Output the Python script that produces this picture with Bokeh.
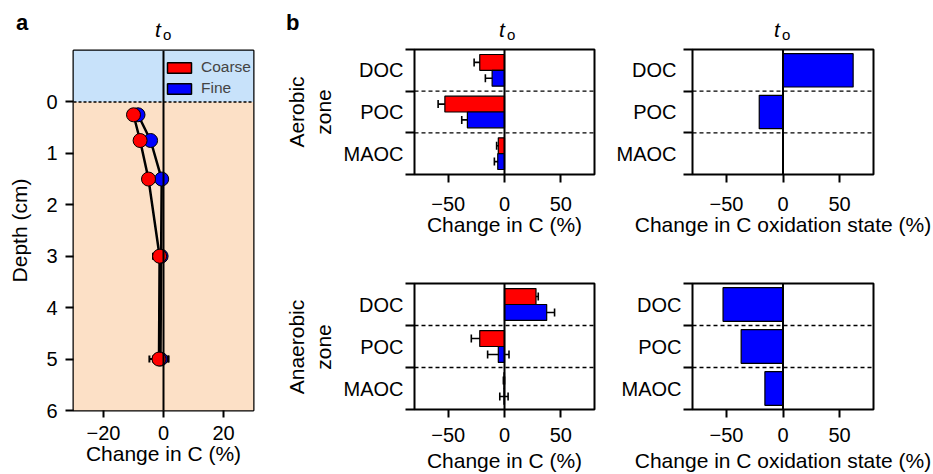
import math
from bokeh.plotting import figure
from bokeh.models import (Range1d, FixedTicker, Span, BoxAnnotation, Legend,
                          LegendItem, Whisker, TeeHead, ColumnDataSource, Div)
from bokeh.layouts import row, column
from bokeh.embed import file_html
from bokeh.resources import INLINE

FONT = "Liberation Sans"

# ---------------- panel a data ----------------
depth_cm = [0.25, 0.75, 1.5, 3.0, 5.0]
coarse_change = [-10.0, -7.8, -5.0, -1.3, -1.5]
coarse_err = [0.6, 0.6, 0.6, 2.2, 3.2]
fine_change = [-8.5, -4.3, -0.6, -0.8, -1.0]
fine_err = [0.6, 0.6, 0.6, 1.5, 2.5]
depth_ticks = [0, 1, 2, 3, 4, 5, 6]
change_ticks_a = [-20, 0, 20]
depth_top, depth_bottom = -1, 6
zone_boundary = 0
series_names = ["Coarse", "Fine"]

# ---------------- panel b data ----------------
fractions = ["DOC", "POC", "MAOC"]
aer_coarse = [-22, -53, -5.5]
aer_coarse_err = [5, 6, 1.5]
aer_fine = [-11, -33, -6]
aer_fine_err = [6, 5, 3]
aer_ox = [62, -21, 0]
ana_coarse = [28, -22, -0.5]
ana_coarse_err = [2, 7.5, 0.5]
ana_fine = [37.5, -5.5, -0.5]
ana_fine_err = [7, 9.5, 3.7]
ana_ox = [-53, -37, -16]
change_ticks_b = [-50, 0, 50]
zone_names = ["Aerobic", "Anaerobic"]

RED = "#FF0000"
BLUE = "#0000FF"
SKY = "#C8E2FA"
PEACH = "#FCE0C6"
NAN = float("nan")


def minus(v):
    return ("\u2212" + str(abs(v))) if v < 0 else str(v)


def base_style(p):
    p.xgrid.visible = False
    p.ygrid.visible = False
    p.title.visible = False
    p.outline_line_color = "black"
    p.outline_line_width = 2
    p.outline_line_alpha = 1
    p.background_fill_color = "white"
    p.border_fill_color = "white"
    for ax in p.axis:
        ax.axis_line_color = None
        ax.major_tick_line_color = "black"
        ax.major_tick_line_width = 2
        ax.major_tick_in = 0
        ax.minor_tick_line_color = None
        ax.major_label_text_font = FONT
        ax.major_label_text_font_size = "20px"
        ax.major_label_text_color = "black"
        ax.axis_label_text_font = FONT
        ax.axis_label_text_font_style = "normal"
        ax.axis_label_text_font_size = "21px"
        ax.axis_label_text_color = "black"


def set_xaxis(p, ticks, tick_out, standoff, label, label_standoff):
    ax = p.xaxis[0]
    ax.ticker = FixedTicker(ticks=ticks)
    ax.major_label_overrides = {t: minus(t) for t in ticks}
    ax.major_tick_out = tick_out
    ax.major_label_standoff = standoff
    ax.axis_label = label
    ax.axis_label_standoff = label_standoff


# ================= panel a =================
pa = figure(width=280, height=430, x_range=Range1d(-30, 30),
            y_range=Range1d(depth_bottom, depth_top), toolbar_location=None,
            output_backend="svg", min_border_left=73, min_border_right=27,
            min_border_top=6, min_border_bottom=64)
base_style(pa)
pa.add_layout(BoxAnnotation(top=depth_top, bottom=zone_boundary, fill_color=SKY,
                            fill_alpha=1, line_color=None, level="underlay"))
pa.add_layout(BoxAnnotation(top=zone_boundary, bottom=depth_bottom, fill_color=PEACH,
                            fill_alpha=1, line_color=None, level="underlay"))
pa.add_layout(Span(location=zone_boundary, dimension="width", line_color="black",
                   line_width=1.5, line_dash="3 2"))
pa.add_layout(Span(location=0, dimension="height", line_color="black", line_width=2))

set_xaxis(pa, change_ticks_a, 7, 8, "Change in C (%)", -1)
ya = pa.yaxis[0]
ya.ticker = FixedTicker(ticks=depth_ticks)
ya.major_tick_out = 8
ya.major_label_standoff = 8
ya.axis_label = "Depth (cm)"
ya.axis_label_standoff = 12

src_c = ColumnDataSource(dict(d=depth_cm, x=coarse_change,
                              lo=[v - e for v, e in zip(coarse_change, coarse_err)],
                              hi=[v + e for v, e in zip(coarse_change, coarse_err)]))
src_f = ColumnDataSource(dict(d=depth_cm, x=fine_change,
                              lo=[v - e for v, e in zip(fine_change, fine_err)],
                              hi=[v + e for v, e in zip(fine_change, fine_err)]))
for s in (src_f, src_c):
    pa.add_layout(Whisker(source=s, base="d", lower="lo", upper="hi", dimension="width",
                          line_color="black", line_width=2,
                          upper_head=TeeHead(size=7, line_width=2, line_color="black"),
                          lower_head=TeeHead(size=7, line_width=2, line_color="black")))
pa.line("x", "d", source=src_f, line_color="black", line_width=2.5)
pa.line("x", "d", source=src_c, line_color="black", line_width=2.5)
pa.scatter("x", "d", source=src_f, size=14, fill_color=BLUE, line_color="black", line_width=1)
pa.scatter("x", "d", source=src_c, size=14, fill_color=RED, line_color="black", line_width=1)

leg_c = pa.quad(left=[NAN], right=[NAN], top=[NAN], bottom=[NAN], fill_color=RED,
                line_color="black", line_width=1.5)
leg_f = pa.quad(left=[NAN], right=[NAN], top=[NAN], bottom=[NAN], fill_color=BLUE,
                line_color="black", line_width=1.5)
legend = Legend(items=[LegendItem(label=series_names[0], renderers=[leg_c]),
                       LegendItem(label=series_names[1], renderers=[leg_f])],
                location=(91, 313), glyph_width=30, glyph_height=13, label_standoff=7,
                label_text_font=FONT, label_text_font_size="15.5px", padding=3,
                spacing=3, margin=0, border_line_color=None, background_fill_alpha=0)
pa.add_layout(legend)


# ================= panel b =================
n = len(fractions)
centers = [n - 0.5 - i for i in range(n)]
bounds = [float(i) for i in range(n + 1)]
half = 0.19


def bar_panel(top_row, left_col, xlabel, ylab_standoff):
    w = 264 if left_col else 333
    h = 196 if top_row else 234
    p = figure(width=w, height=h, x_range=Range1d(-80, 80), y_range=Range1d(0, n),
               toolbar_location=None, output_backend="svg",
               min_border_left=78 if left_col else 92,
               min_border_right=6 if left_col else 60,
               min_border_top=5 if top_row else 43,
               min_border_bottom=66 if top_row else 65)
    base_style(p)
    set_xaxis(p, change_ticks_b, 8, 14 if top_row else 10, xlabel, -1 if top_row else 4)
    yax = p.yaxis[0]
    yax.ticker = FixedTicker(ticks=centers, minor_ticks=bounds)
    yax.major_label_overrides = {c: f for c, f in zip(centers, fractions)}
    yax.major_tick_out = 0
    yax.major_tick_line_color = None
    yax.minor_tick_out = 9
    yax.minor_tick_in = 0
    yax.minor_tick_line_color = "black"
    yax.minor_tick_line_width = 2
    yax.major_label_standoff = ylab_standoff
    for b in bounds[1:-1]:
        p.add_layout(Span(location=b, dimension="width", line_color="black",
                          line_width=1.3, line_dash="4 3"))
    return p


def change_bars(p, coarse, coarse_err, fine, fine_err):
    yc = [c + half for c in centers]
    yf = [c - half for c in centers]
    p.hbar(y=yc, left=0, right=coarse, height=2 * half, fill_color=RED,
           line_color="black", line_width=1.2)
    p.hbar(y=yf, left=0, right=fine, height=2 * half, fill_color=BLUE,
           line_color="black", line_width=1.2)
    for ys, v, e in ((yc, coarse, coarse_err), (yf, fine, fine_err)):
        s = ColumnDataSource(dict(y=ys, lo=[a - b for a, b in zip(v, e)],
                                  hi=[a + b for a, b in zip(v, e)]))
        p.add_layout(Whisker(source=s, base="y", lower="lo", upper="hi", dimension="width",
                             line_color="black", line_width=1.6,
                             upper_head=TeeHead(size=8, line_width=1.6, line_color="black"),
                             lower_head=TeeHead(size=8, line_width=1.6, line_color="black")))
    p.add_layout(Span(location=0, dimension="height", line_color="black", line_width=2))


def ox_bars(p, ox):
    p.hbar(y=centers, left=0, right=ox, height=0.8, fill_color=BLUE,
           line_color="black", line_width=1.2)
    p.add_layout(Span(location=0, dimension="height", line_color="black", line_width=2))


p1 = bar_panel(True, True, "Change in C (%)", 2)
change_bars(p1, aer_coarse, aer_coarse_err, aer_fine, aer_fine_err)
p2 = bar_panel(True, False, "Change in C oxidation state (%)", 7)
ox_bars(p2, aer_ox)
p3 = bar_panel(False, True, "Change in C (%)", 2)
change_bars(p3, ana_coarse, ana_coarse_err, ana_fine, ana_fine_err)
p4 = bar_panel(False, False, "Change in C oxidation state (%)", 2)
ox_bars(p4, ana_ox)


# ================= text outside the plot frames (HTML) =================
def span(text, left, top, size, weight="normal", style="normal"):
    return (f'<span style="position:absolute;left:{left}px;top:{top}px;'
            f'font-size:{size}px;line-height:{size}px;font-weight:{weight};'
            f'font-style:{style};white-space:nowrap;">{text}</span>')


def rotated(text, cx, cy, size):
    return (f'<span style="position:absolute;left:{cx}px;top:{cy}px;font-size:{size}px;'
            f'line-height:{size}px;white-space:nowrap;'
            f'transform:translate(-50%,-50%) rotate(-90deg);">{text}</span>')


def box(inner, w, h):
    return (f'<div style="position:relative;width:{w}px;height:{h}px;'
            f'font-family:\'{FONT}\',sans-serif;color:#000;">{inner}</div>')


def t_o(left):
    return span("t", left, 19, 21, style="italic") + span("o", left + 8, 27, 15)


header_html = (span("a", 16, 12, 22, weight="bold") + span("b", 286, 12, 22, weight="bold")
               + t_o(155) + t_o(499) + t_o(774))
header = Div(text=box(header_html, 933, 44), width=933, height=44, margin=0)

strip_html = (rotated(zone_names[0], 16, 68, 21) + rotated("zone", 43, 68, 21)
              + rotated(zone_names[1], 16, 303, 21) + rotated("zone", 43, 303, 21))
strip = Div(text=box(strip_html, 56, 430), width=56, height=430, margin=0)

body = row(pa, strip, column(row(p1, p2), row(p3, p4)))
layout = column(header, body)

open("out.html", "w").write(file_html(layout, INLINE))
